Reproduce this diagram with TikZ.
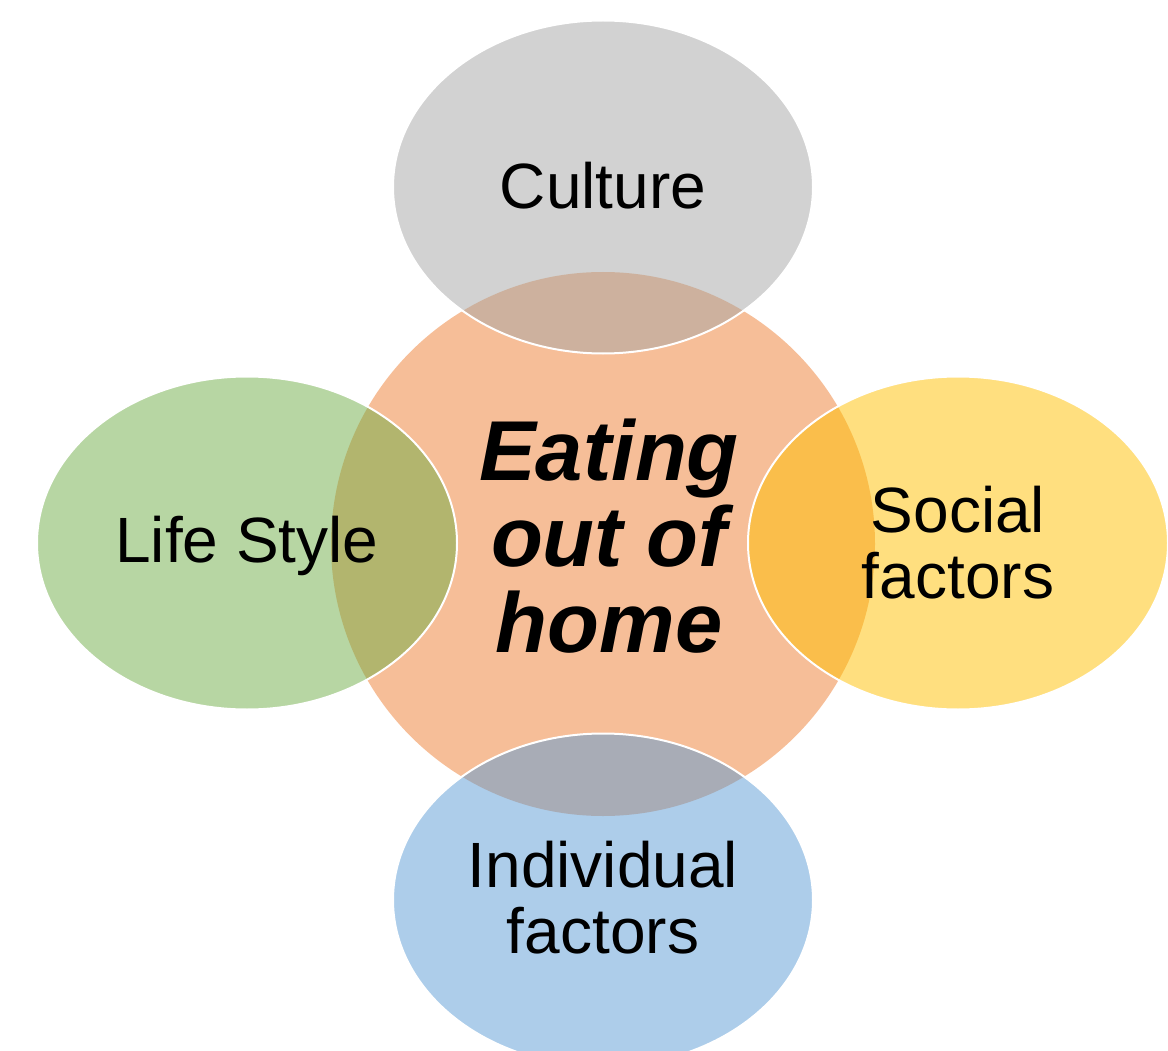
\documentclass[tikz,border=0pt]{standalone}
\usepackage{fontspec}
\setmainfont{Liberation Sans}
\usetikzlibrary{shapes.geometric}
\definecolor{corec}{HTML}{ED7D31}
\definecolor{cultc}{HTML}{A5A5A5}
\definecolor{lifec}{HTML}{70AD47}
\definecolor{socc}{HTML}{FFC000}
\definecolor{indc}{HTML}{5B9BD5}
\tikzset{
  blob/.style={ellipse, inner sep=0pt, minimum width=420pt, minimum height=333pt,
    fill opacity=0.5, draw=white, draw opacity=1, line width=2pt},
  core/.style={circle, inner sep=0pt, minimum size=544pt, fill=corec, fill opacity=0.5},
  lbl/.style={inner sep=0pt, align=center, font=\fontsize{64}{66}\selectfont},
  corelbl/.style={inner sep=0pt, align=center, font=\fontsize{85}{86}\selectfont\bfseries\itshape},
}
\begin{document}
\begin{tikzpicture}[x=1pt,y=1pt]
\useasboundingbox (0,0) rectangle (1168,-1051);
\clip (0,0) rectangle (1168,-1051);
\node[core] (eat) at (603,-544) {};
\node[blob, fill=cultc] (culture) at (603,-187) {};
\node[blob, fill=lifec] (life) at (247,-543) {};
\node[blob, fill=socc] (social) at (958,-543) {};
\node[blob, fill=indc] (indiv) at (603,-900) {};
\node[corelbl] (eatt) at ([xshift=6pt,yshift=8pt]eat.center) {Eating\\out of\\home};
\node[lbl] (culturet) at ([yshift=1pt]culture.center) {Culture};
\node[lbl] (lifet) at ([yshift=-3pt]life.center) {Life Style};
\node[lbl] (socialt) at (social.center) {Social\\factors};
\node[lbl] (indivt) at ([yshift=2pt]indiv.center) {Individual\\factors};
\end{tikzpicture}
\end{document}
